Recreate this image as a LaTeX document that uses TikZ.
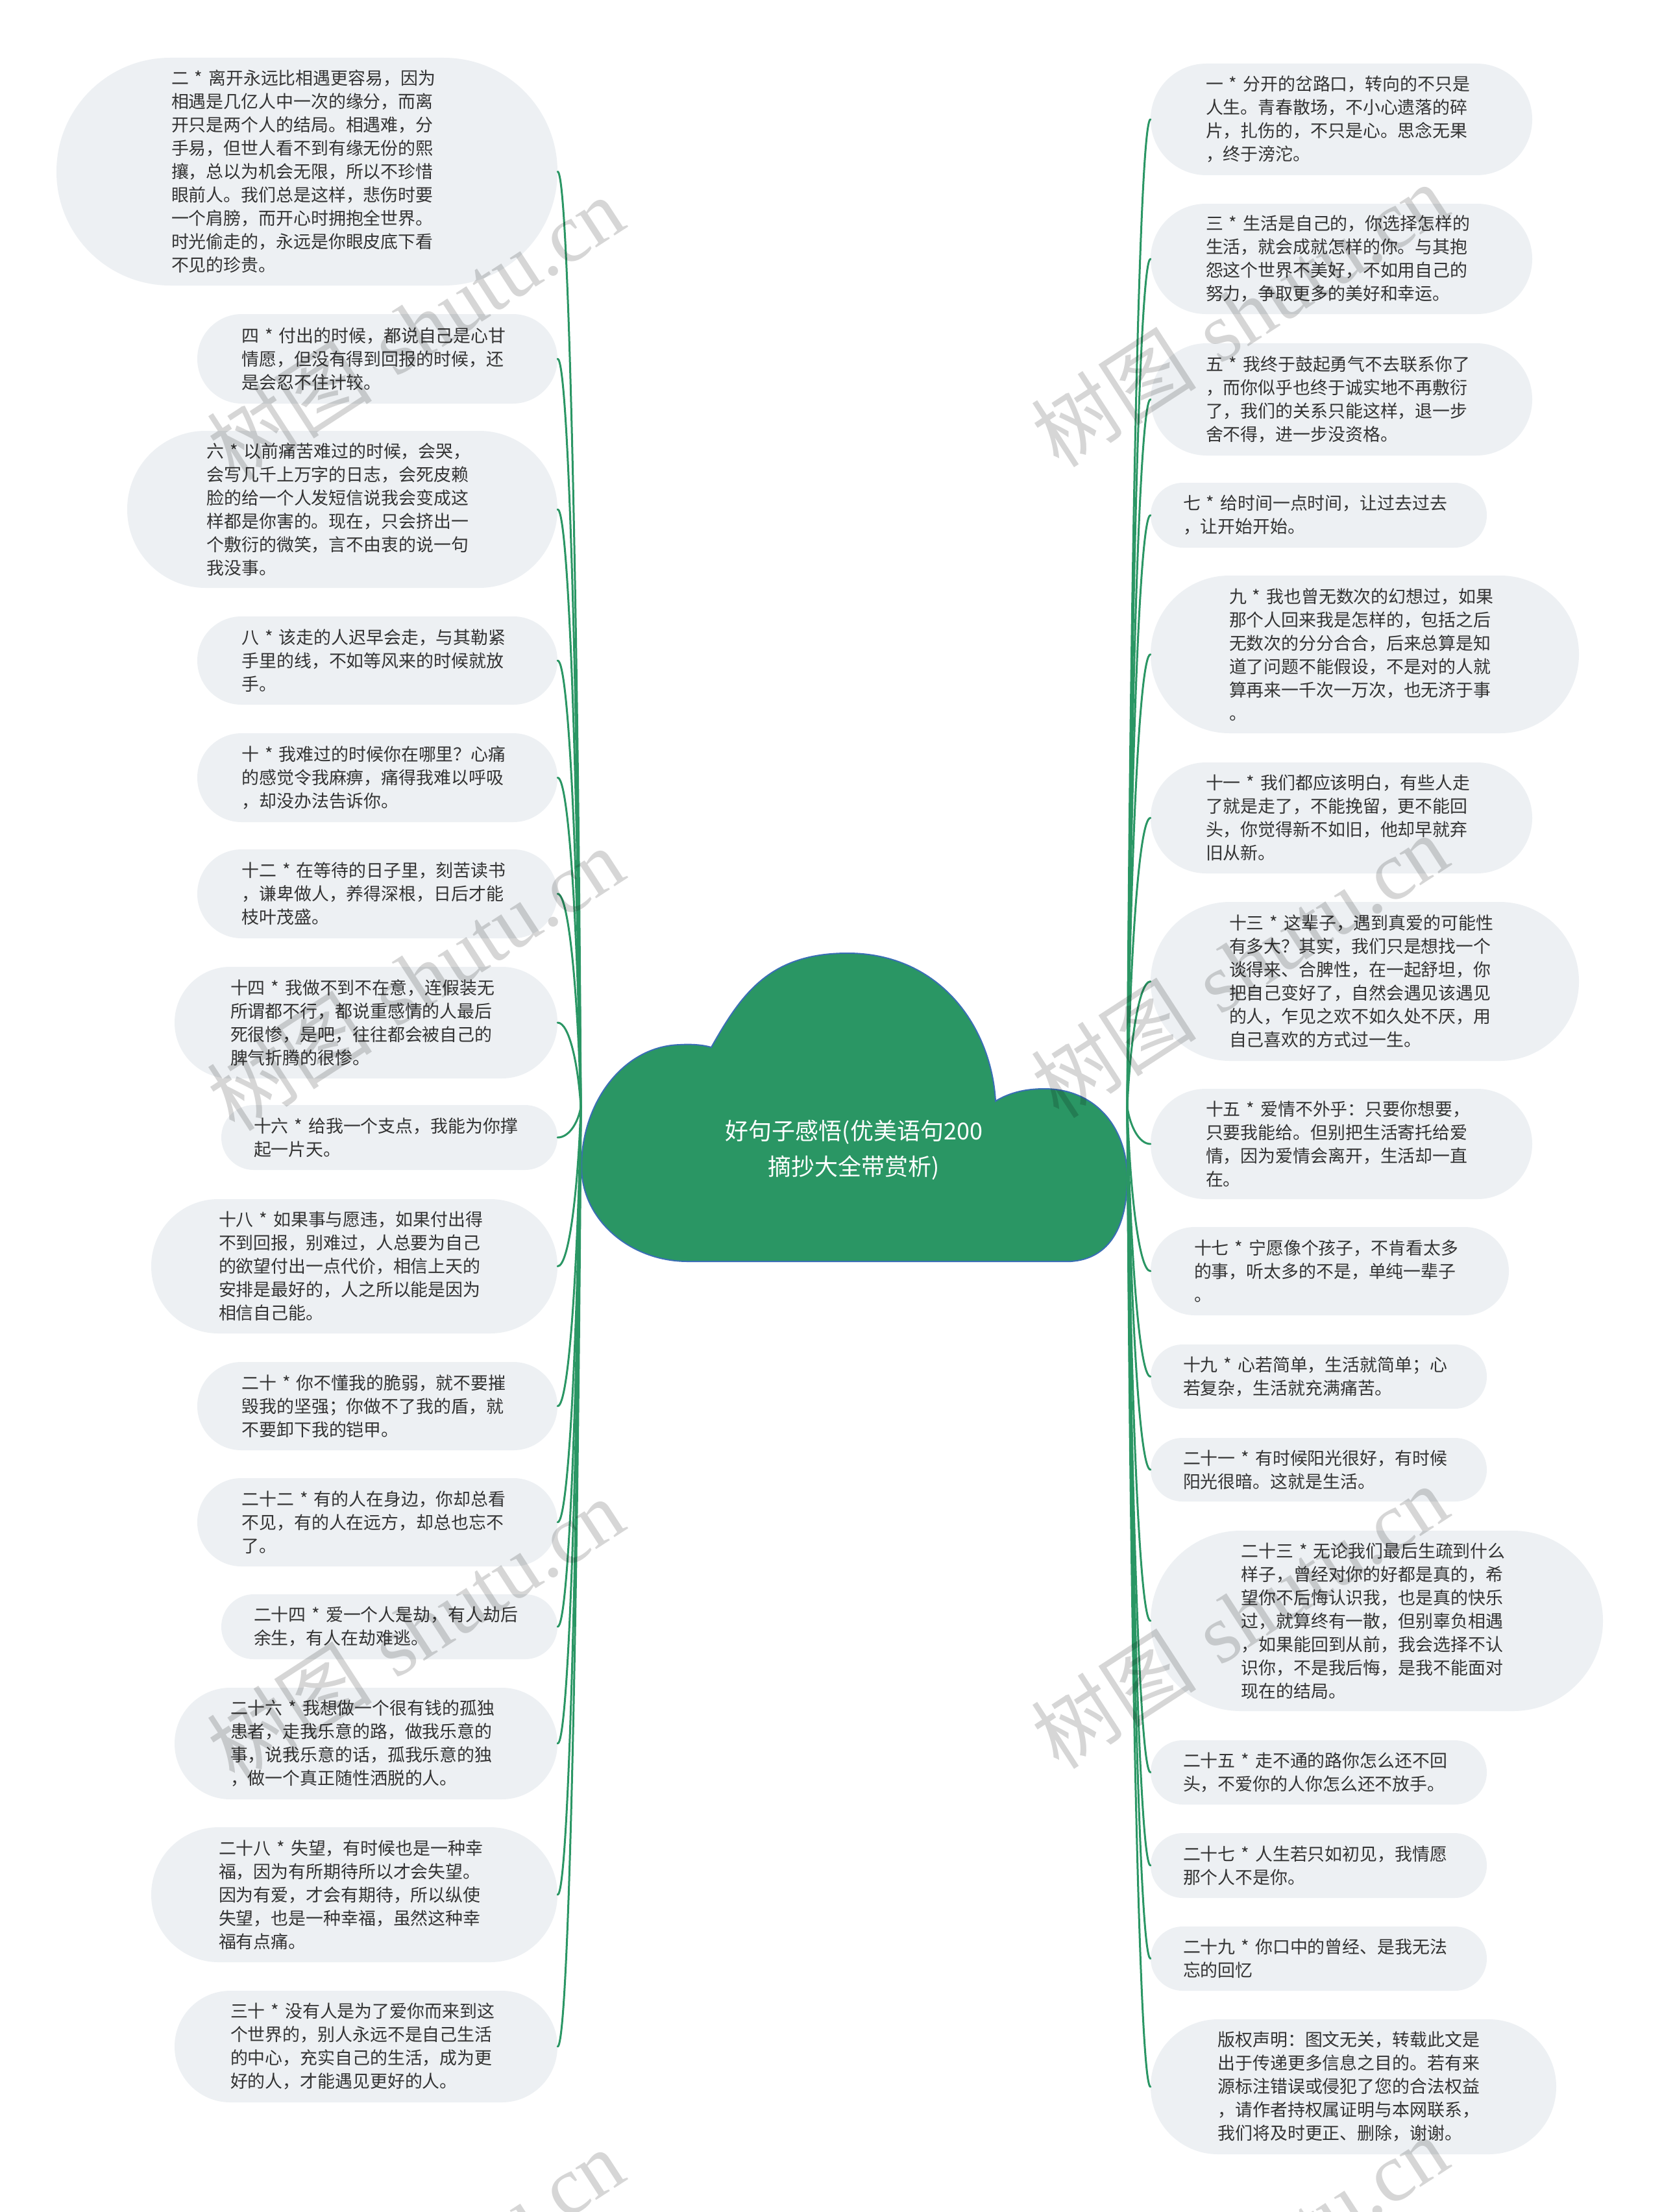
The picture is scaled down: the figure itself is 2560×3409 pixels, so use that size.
\documentclass[tikz,border=0pt]{standalone}
\usepackage{fontspec}
\newfontfamily\cjkf{Noto Sans CJK SC}
\newfontfamily\wmlat{Liberation Serif}
\usetikzlibrary{calc}
\definecolor{pillc}{HTML}{EDF0F3}
\definecolor{grn}{HTML}{2A9664}
\definecolor{cbord}{HTML}{3A6EB5}
\definecolor{txt}{HTML}{333333}

\newcommand\pillnode[6]{%
  \pgfmathsetmacro\pillW{#4-#2}%
  \pgfmathsetmacro\pillH{#5-#3}%
  \pgfmathsetmacro\pillR{(#5-#3)/2}%
  \pgfmathsetmacro\pillX{(#2+#4)/2}%
  \pgfmathsetmacro\pillY{(#3+#5)/2}%
  \node[pill, minimum width=\pillW pt, minimum height=\pillH pt, rounded corners=\pillR pt] (#1) at (\pillX,\pillY) {#6};%
}
\newcommand\connL[1]{\draw[conn] let \p1=(rootL), \p2=(#1.east) in (\p1) .. controls ({\x1-4pt},{0.5*(\y1)+0.5*(\y2)}) and ({\x2+18pt},{\y2}) .. (\p2);}
\newcommand\connR[1]{\draw[conn] let \p1=(rootR), \p2=(#1.west) in (\p1) .. controls ({\x1+4pt},{0.5*(\y1)+0.5*(\y2)}) and ({\x2-18pt},{\y2}) .. (\p2);}

\begin{document}
\begin{tikzpicture}[x=1pt,y=-1pt,
  pill/.style={fill=pillc, draw=none, align=left, text=txt, inner sep=0pt,
    text width=418pt, font={\cjkf\fontsize{26.9}{36}\selectfont}},
  conn/.style={draw=grn, line width=3pt, line cap=round},
  roottext/.style={text=white, align=center, inner sep=0pt,
    font={\cjkf\fontsize{36}{55}\selectfont}},
  wm/.style={text=black, text opacity=0.16, rotate=33, inner sep=0pt,
    font={\fontsize{128}{140}\selectfont}}]

\fill[white] (0,0) rectangle (2560,3409);
\useasboundingbox (0,0) rectangle (2560,3409);

% ---------- left column ----------
\pillnode{L1}{87}{89}{859}{440}{二 * 离开永远比相遇更容易，因为\\相遇是几亿人中一次的缘分，而离\\开只是两个人的结局。相遇难，分\\手易，但世人看不到有缘无份的熙\\攘，总以为机会无限，所以不珍惜\\眼前人。我们总是这样，悲伤时要\\一个肩膀，而开心时拥抱全世界。\\时光偷走的，永远是你眼皮底下看\\不见的珍贵。}
\pillnode{L2}{304}{484}{859}{622}{四 * 付出的时候，都说自己是心甘\\情愿，但没有得到回报的时候，还\\是会忍不住计较。}
\pillnode{L3}{196}{664}{859}{906}{六 * 以前痛苦难过的时候，会哭，\\会写几千上万字的日志，会死皮赖\\脸的给一个人发短信说我会变成这\\样都是你害的。现在，只会挤出一\\个敷衍的微笑，言不由衷的说一句\\我没事。}
\pillnode{L4}{304}{950}{859}{1086}{八 * 该走的人迟早会走，与其勒紧\\手里的线，不如等风来的时候就放\\手。}
\pillnode{L5}{304}{1130}{859}{1267}{十 * 我难过的时候你在哪里？心痛\\的感觉令我麻痹，痛得我难以呼吸\\，却没办法告诉你。}
\pillnode{L6}{304}{1309}{859}{1446}{十二 * 在等待的日子里，刻苦读书\\，谦卑做人，养得深根，日后才能\\枝叶茂盛。}
\pillnode{L7}{269}{1490}{859}{1662}{十四 * 我做不到不在意，连假装无\\所谓都不行，都说重感情的人最后\\死很惨，是吧，往往都会被自己的\\脾气折腾的很惨。}
\pillnode{L8}{341}{1703}{859}{1803}{十六 * 给我一个支点，我能为你撑\\起一片天。}
\pillnode{L9}{233}{1848}{859}{2055}{十八 * 如果事与愿违，如果付出得\\不到回报，别难过，人总要为自己\\的欲望付出一点代价，相信上天的\\安排是最好的，人之所以能是因为\\相信自己能。}
\pillnode{L10}{304}{2099}{859}{2235}{二十 * 你不懂我的脆弱，就不要摧\\毁我的坚强；你做不了我的盾，就\\不要卸下我的铠甲。}
\pillnode{L11}{304}{2278}{859}{2414}{二十二 * 有的人在身边，你却总看\\不见，有的人在远方，却总也忘不\\了。}
\pillnode{L12}{341}{2457}{859}{2557}{二十四 * 爱一个人是劫，有人劫后\\余生，有人在劫难逃。}
\pillnode{L13}{269}{2601}{859}{2773}{二十六 * 我想做一个很有钱的孤独\\患者，走我乐意的路，做我乐意的\\事，说我乐意的话，孤我乐意的独\\，做一个真正随性洒脱的人。}
\pillnode{L14}{233}{2816}{859}{3024}{二十八 * 失望，有时候也是一种幸\\福，因为有所期待所以才会失望。\\因为有爱，才会有期待，所以纵使\\失望，也是一种幸福，虽然这种幸\\福有点痛。}
\pillnode{L15}{269}{3068}{859}{3240}{三十 * 没有人是为了爱你而来到这\\个世界的，别人永远不是自己生活\\的中心，充实自己的生活，成为更\\好的人，才能遇见更好的人。}

% ---------- right column ----------
\pillnode{R1}{1773}{98}{2361}{270}{一 * 分开的岔路口，转向的不只是\\人生。青春散场，不小心遗落的碎\\片，扎伤的，不只是心。思念无果\\，终于滂沱。}
\pillnode{R2}{1773}{314}{2361}{484}{三 * 生活是自己的，你选择怎样的\\生活，就会成就怎样的你。与其抱\\怨这个世界不美好，不如用自己的\\努力，争取更多的美好和幸运。}
\pillnode{R3}{1773}{529}{2361}{702}{五 * 我终于鼓起勇气不去联系你了\\，而你似乎也终于诚实地不再敷衍\\了，我们的关系只能这样，退一步\\舍不得，进一步没资格。}
\pillnode{R4}{1773}{744}{2291}{844}{七 * 给时间一点时间，让过去过去\\，让开始开始。}
\pillnode{R5}{1773}{887}{2433}{1130}{九 * 我也曾无数次的幻想过，如果\\那个人回来我是怎样的，包括之后\\无数次的分分合合，后来总算是知\\道了问题不能假设，不是对的人就\\算再来一千次一万次，也无济于事\\。}
\pillnode{R6}{1773}{1175}{2361}{1346}{十一 * 我们都应该明白，有些人走\\了就是走了，不能挽留，更不能回\\头，你觉得新不如旧，他却早就弃\\旧从新。}
\pillnode{R7}{1773}{1390}{2433}{1635}{十三 * 这辈子，遇到真爱的可能性\\有多大？其实，我们只是想找一个\\谈得来、合脾性，在一起舒坦，你\\把自己变好了，自然会遇见该遇见\\的人，乍见之欢不如久处不厌，用\\自己喜欢的方式过一生。}
\pillnode{R8}{1773}{1678}{2361}{1848}{十五 * 爱情不外乎：只要你想要，\\只要我能给。但别把生活寄托给爱\\情，因为爱情会离开，生活却一直\\在。}
\pillnode{R9}{1773}{1891}{2325}{2027}{十七 * 宁愿像个孩子，不肯看太多\\的事，听太多的不是，单纯一辈子\\。}
\pillnode{R10}{1773}{2072}{2291}{2171}{十九 * 心若简单，生活就简单；心\\若复杂，生活就充满痛苦。}
\pillnode{R11}{1773}{2216}{2291}{2314}{二十一 * 有时候阳光很好，有时候\\阳光很暗。这就是生活。}
\pillnode{R12}{1773}{2359}{2470}{2637}{二十三 * 无论我们最后生疏到什么\\样子，曾经对你的好都是真的，希\\望你不后悔认识我，也是真的快乐\\过，就算终有一散，但别辜负相遇\\，如果能回到从前，我会选择不认\\识你，不是我后悔，是我不能面对\\现在的结局。}
\pillnode{R13}{1773}{2682}{2291}{2781}{二十五 * 走不通的路你怎么还不回\\头，不爱你的人你怎么还不放手。}
\pillnode{R14}{1773}{2825}{2291}{2925}{二十七 * 人生若只如初见，我情愿\\那个人不是你。}
\pillnode{R15}{1773}{2969}{2291}{3068}{二十九 * 你口中的曾经、是我无法\\忘的回忆}
\pillnode{R16}{1773}{3112}{2398}{3320}{版权声明：图文无关，转载此文是\\出于传递更多信息之目的。若有来\\源标注错误或侵犯了您的合法权益\\，请作者持权属证明与本网联系，\\我们将及时更正、删除，谢谢。}

% ---------- central cloud ----------
\path[fill=grn, draw=cbord, line width=2pt]
  (1060,1944) -- (1650,1944)
  .. controls (1710,1940) and (1737,1890) .. (1737,1815)
  .. controls (1737,1740) and (1690,1678) .. (1609,1678)
  .. controls (1580,1678) and (1555,1684) .. (1534,1697)
  .. controls (1528,1585) and (1450,1469) .. (1306,1469)
  .. controls (1186,1469) and (1143,1531) .. (1096,1614)
  .. controls (1082,1610) and (1065,1609) .. (1048,1610)
  .. controls (960,1612) and (896,1700) .. (896,1798)
  .. controls (896,1879) and (970,1944) .. (1060,1944) -- cycle;
\node[roottext] (root) at (1316,1772) {好句子感悟(优美语句200\\摘抄大全带赏析)};
\coordinate (rootL) at (895,1706);
\coordinate (rootR) at (1737,1706);

% ---------- connectors ----------
\foreach \nd in {L1,L2,L3,L4,L5,L6,L7,L8,L9,L10,L11,L12,L13,L14,L15}{\connL{\nd}}
\foreach \nd in {R1,R2,R3,R4,R5,R6,R7,R8,R9,R10,R11,R12,R13,R14,R15,R16}{\connR{\nd}}

% ---------- watermarks ----------
\foreach \wx/\wy/\k in {640/505/a,640/1508/b,640/2511/c,640/3514/d,1910/485/e,1910/1488/f,1910/2491/g,1910/3494/h}{
  \node[wm] (wm\k) at (\wx,\wy) {{\cjkf 树图} {\wmlat shutu.cn}};
}
\end{tikzpicture}
\end{document}
